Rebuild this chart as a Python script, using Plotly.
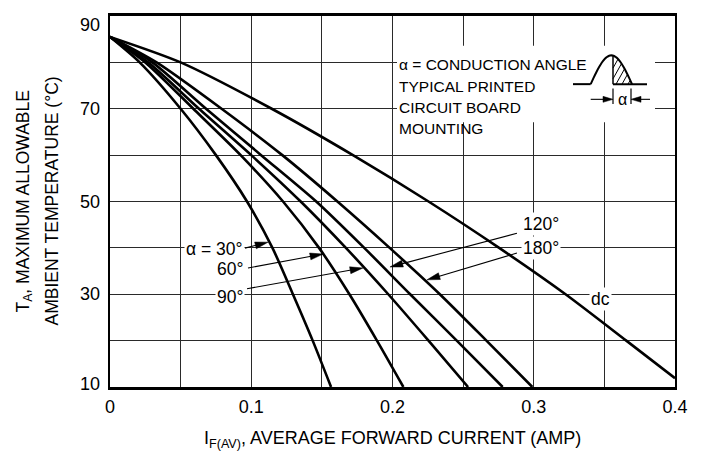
import math
import plotly.graph_objects as go

# ---------------- data ----------------
T_A = [85.5, 80, 70, 60, 50, 40, 30, 20, 10]
I_30 = [0, 0.021, 0.050, 0.075, 0.097, 0.1150, 0.1295, 0.1435, 0.1565]
I_60 = [0, 0.025, 0.059, 0.0925, 0.1225, 0.148, 0.1695, 0.189, 0.2077]
I_90 = [0, 0.027, 0.063, 0.100, 0.135, 0.167, 0.197, 0.2255, 0.2535]
I_120 = [0, 0.030, 0.068, 0.107, 0.146, 0.180, 0.2125, 0.2455, 0.278]
I_180 = [0, 0.033, 0.079, 0.122, 0.161, 0.198, 0.2335, 0.2665, 0.299]
T_dc = [85.5, 80, 70, 60, 50, 40, 30, 20, 11.9]
I_dc = [0, 0.050, 0.1145, 0.172, 0.2255, 0.2755, 0.3225, 0.3655, 0.4]

x_tick_vals = [0, 0.1, 0.2, 0.3, 0.4]
x_tick_text = ["0", "0.1", "0.2", "0.3", "0.4"]
y_tick_vals = [90, 70, 50, 30, 10]
y_tick_text = ["90", "70", "50", "30", "10"]

# curve labels: (text, anchor side, label x, label T, arrow tail x, tail T, arrow tip x, tip T)
label_30 = ("α = 30°", "right", 0.0956, 39.8, 0.0956, 39.95, 0.1119, 41.23)
label_60 = ("60°", "right", 0.0956, 35.5, 0.0977, 35.67, 0.1508, 38.66)
label_90 = ("90°", "right", 0.0956, 29.5, 0.0970, 31.2, 0.1791, 35.67)
label_120 = ("120°", "left", 0.2912, 45.1, 0.2881, 43.16, 0.1982, 35.88)
label_180 = ("180°", "left", 0.2912, 39.9, 0.2881, 38.88, 0.2244, 33.1)
label_dc = ("dc", 0.3476, 29.0)

note_lines = ["α = CONDUCTION ANGLE", "TYPICAL PRINTED", "CIRCUIT BOARD", "MOUNTING"]

# ---------------- layout geometry (window pixels) ----------------
WIN_W, WIN_H = 702, 459
OFF = 8                      # default page margin around the figure
ML, MT = 110, 13             # plot area left/top in window pixels
PR, PB = 675, 387            # plot area right/bottom in window pixels
X0, X1 = 0.0, 0.4
Y0, Y1 = 10.0, 90.0
PW = PR - ML
PH = PB - MT
FIG_W = WIN_W - 2 * OFF
FIG_H = WIN_H - 2 * OFF


def px2x(px):
    return X0 + (px - ML) / PW * (X1 - X0)


def py2y(py):
    return Y1 - (py - MT) / PH * (Y1 - Y0)


def x2px(x):
    return ML + (x - X0) / (X1 - X0) * PW


def y2py(y):
    return MT + (Y1 - y) / (Y1 - Y0) * PH


FONT = "Liberation Sans, Arial, sans-serif"

fig = go.Figure()

for xs, ys in [(I_30, T_A), (I_60, T_A), (I_90, T_A), (I_120, T_A), (I_180, T_A), (I_dc, T_dc)]:
    fig.add_trace(go.Scatter(
        x=xs, y=ys, mode="lines",
        line=dict(color="black", width=2.6, shape="spline", smoothing=0.7),
        showlegend=False, hoverinfo="skip"))

shapes = []
annotations = []

# white area behind the note block (breaks the grid like the reference)
shapes.append(dict(type="rect", xref="x", yref="y", layer="between",
                   x0=px2x(397), x1=px2x(655), y0=py2y(120), y1=py2y(43),
                   fillcolor="white", line=dict(width=0)))


def arrow(tx, ty, hx, hy, L=13, w=3.5):
    """line from tail (tx,ty) to head (hx,hy) with a filled head (sizes in pixels)."""
    ax_, ay_ = x2px(tx), y2py(ty)
    bx, by = x2px(hx), y2py(hy)
    d = math.hypot(bx - ax_, by - ay_)
    ux, uy = (bx - ax_) / d, (by - ay_) / d
    nx, ny = -uy, ux
    basex, basey = bx - L * ux, by - L * uy
    shapes.append(dict(type="line", xref="x", yref="y", layer="above",
                       x0=tx, y0=ty, x1=px2x(basex + ux), y1=py2y(basey + uy),
                       line=dict(color="black", width=1.1)))
    pts = [(bx, by), (basex + w * nx, basey + w * ny), (basex - w * nx, basey - w * ny)]
    path = "M " + " L ".join(f"{px2x(p[0])},{py2y(p[1])}" for p in pts) + " Z"
    shapes.append(dict(type="path", xref="x", yref="y", layer="above", path=path,
                       fillcolor="black", line=dict(color="black", width=0.5)))


for lab in [label_30, label_60, label_90, label_120, label_180]:
    text, side, lx, ly, tx, ty, hx, hy = lab
    arrow(tx, ty, hx, hy)
    annotations.append(dict(x=lx, y=ly, xref="x", yref="y", text=text, showarrow=False,
                            xanchor=side, yanchor="middle",
                            font=dict(family=FONT, size=17.5, color="black"),
                            bgcolor="white", borderpad=1))

annotations.append(dict(x=label_dc[1], y=label_dc[2], xref="x", yref="y", text=label_dc[0],
                        showarrow=False, font=dict(family=FONT, size=17.5, color="black"),
                        bgcolor="white", borderpad=1))

# note block
for i, line in enumerate(note_lines):
    annotations.append(dict(x=px2x(397), y=py2y(62 + 21.6 * i), xref="x", yref="y",
                            text=line, showarrow=False, xanchor="left", yanchor="middle",
                            font=dict(family=FONT, size=15.5, color="black")))

# waveform icon
base_py = 81.7
p_l, p_r, peak = 590.7, 632.0, 29.0
wave = []
for i in range(31):
    px = p_l + (p_r - p_l) * i / 30
    py = base_py - peak * math.sin(math.pi * i / 30)
    wave.append((px, py))
path = "M " + " L ".join(f"{px2x(a)},{py2y(b)}" for a, b in wave)
shapes.append(dict(type="path", xref="x", yref="y", layer="above", path=path,
                   line=dict(color="black", width=2)))
shapes.append(dict(type="line", xref="x", yref="y", layer="above",
                   x0=px2x(573), x1=px2x(p_l), y0=py2y(base_py), y1=py2y(base_py),
                   line=dict(color="black", width=2)))
shapes.append(dict(type="line", xref="x", yref="y", layer="above",
                   x0=px2x(613), x1=px2x(647), y0=py2y(base_py), y1=py2y(base_py),
                   line=dict(color="black", width=2)))


def curve_py(px):
    return base_py - peak * math.sin(math.pi * (px - p_l) / (p_r - p_l))


shapes.append(dict(type="line", xref="x", yref="y", layer="above",
                   x0=px2x(613), x1=px2x(613), y0=py2y(curve_py(613)), y1=py2y(base_py),
                   line=dict(color="black", width=1.5)))
for s in [604, 610, 616, 622, 628]:
    seg = []
    px = max(613.0, s)
    while px <= p_r:
        py = base_py - (px - s) * 1.8
        if base_py >= py >= curve_py(px):
            seg.append((px, py))
        px += 0.25
    if len(seg) > 1:
        shapes.append(dict(type="line", xref="x", yref="y", layer="above",
                           x0=px2x(seg[0][0]), y0=py2y(seg[0][1]),
                           x1=px2x(seg[-1][0]), y1=py2y(seg[-1][1]),
                           line=dict(color="black", width=1)))

# alpha width marker
row = 97
arrow(px2x(590.7), py2y(row), px2x(613), py2y(row), L=10, w=3)
arrow(px2x(650), py2y(row), px2x(631), py2y(row), L=10, w=3)
for vx in [613, 631]:
    shapes.append(dict(type="line", xref="x", yref="y", layer="above",
                       x0=px2x(vx), x1=px2x(vx), y0=py2y(86), y1=py2y(101.7),
                       line=dict(color="black", width=1.2)))
annotations.append(dict(x=px2x(622.3), y=py2y(97), xref="x", yref="y", text="α",
                        showarrow=False, font=dict(family=FONT, size=16, color="black")))

# y tick labels
for v, t in zip(y_tick_vals, y_tick_text):
    shift = -9 if v == max(y_tick_vals) else (3.5 if v == min(y_tick_vals) else 0)
    annotations.append(dict(x=0, xref="paper", y=v, yref="y", text=t, showarrow=False,
                            xanchor="right", yanchor="middle", xshift=-8, yshift=shift,
                            font=dict(family=FONT, size=18, color="black")))

# axis titles
annotations.append(dict(x=0.5, xref="paper", y=0, yref="paper", yanchor="middle",
                        yshift=-52, showarrow=False,
                        text="I<sub>F(AV)</sub>, AVERAGE FORWARD CURRENT (AMP)",
                        font=dict(family=FONT, size=18, color="black")))
annotations.append(dict(x=0, xref="paper", xanchor="center", xshift=-86, y=0.5,
                        yref="paper", yanchor="middle", textangle=-90, showarrow=False,
                        text="T<sub>A</sub>, MAXIMUM ALLOWABLE",
                        font=dict(family=FONT, size=17.5, color="black")))
annotations.append(dict(x=0, xref="paper", xanchor="center", xshift=-59, y=0.5,
                        yref="paper", yanchor="middle", textangle=-90, showarrow=False,
                        text="AMBIENT TEMPERATURE (°C)",
                        font=dict(family=FONT, size=17.5, color="black")))

GRID = "#2a2a2a"
fig.update_layout(
    width=FIG_W, height=FIG_H,
    margin=dict(l=ML - OFF, r=FIG_W - (PR - OFF), t=MT - OFF, b=FIG_H - (PB - OFF), pad=0),
    paper_bgcolor="white", plot_bgcolor="white",
    shapes=shapes, annotations=annotations,
    xaxis=dict(range=[X0, X1], tickvals=x_tick_vals, ticktext=x_tick_text,
               showgrid=True, gridcolor=GRID, gridwidth=1,
               minor=dict(dtick=0.05, tick0=0, showgrid=True, gridcolor=GRID, gridwidth=1),
               zeroline=False, showline=True, linecolor="black", linewidth=2.5,
               mirror=True, ticks="", ticklabelstandoff=2,
               tickfont=dict(family=FONT, size=18, color="black")),
    yaxis=dict(range=[Y0, Y1], dtick=10, tick0=10, showticklabels=False,
               showgrid=True, gridcolor=GRID, gridwidth=1,
               zeroline=False, showline=True, linecolor="black", linewidth=2,
               mirror=True, ticks=""),
)

fig.write_html("out.html")
